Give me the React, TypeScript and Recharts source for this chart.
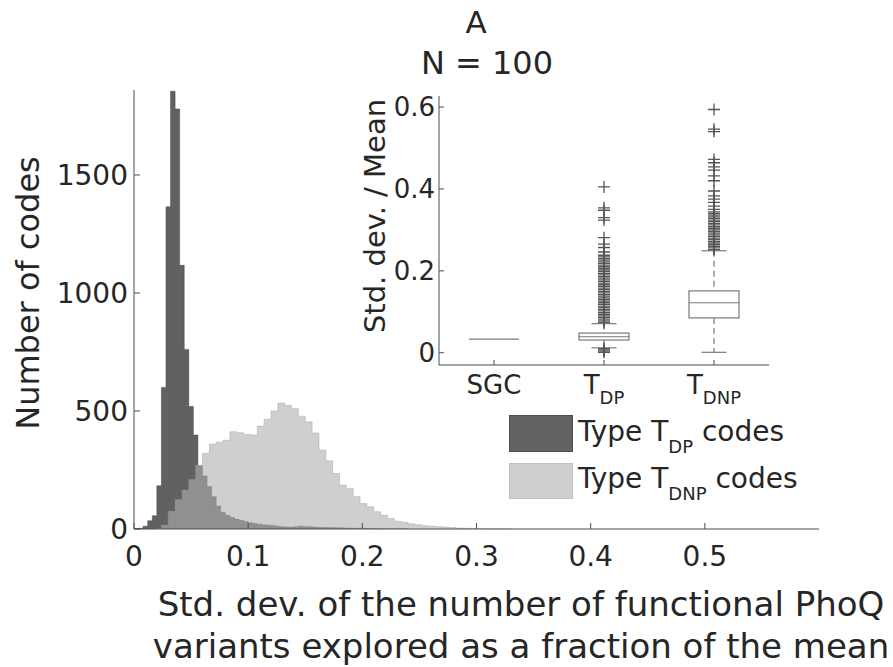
import React from "react";
import { ComposedChart, Area, Bar, Scatter, XAxis, YAxis } from "recharts";

const FONT = "DejaVu Sans";
const TEXT = "#262626";
const AXIS = "#4d4d4d";

// histogram of type T_DP codes (bins of 0.004 starting at 0)
const darkBinStart = 0;
const darkBinWidth = 0.004;
const darkCounts = [
  2, 3, 12, 35, 56, 183, 600, 1365, 1855, 1780, 1117, 761, 519, 398, 268, 225,
  180, 137, 97, 70, 58, 49, 42, 37, 32, 27, 23, 20, 18, 17, 15, 12, 10, 9, 8,
  10, 12, 11, 10, 8, 7, 7, 6, 6, 5, 5, 4, 4, 3, 3, 3, 2, 2, 2, 1, 1, 1, 1, 1, 1,
];

// histogram of type T_DNP codes (bins of 0.006 starting at 0.018)
const lightBinStart = 0.018;
const lightBinWidth = 0.006;
const lightCounts = [
  2, 17, 75, 125, 165, 210, 270, 320, 360, 368, 376, 412, 408, 400, 398, 436,
  465, 500, 534, 524, 510, 478, 454, 407, 334, 289, 235, 186, 172, 137, 108, 94,
  73, 58, 45, 33, 28, 22, 18, 14, 12, 10, 8, 6, 4, 3, 2, 2, 1, 1, 1, 1,
];

const xTicks = [0, 0.1, 0.2, 0.3, 0.4, 0.5];
const yTicks = [0, 500, 1000, 1500];

// inset box plot
const boxPos = [1, 2, 3];
const boxLabels = [
  { main: "SGC", sub: "" },
  { main: "T", sub: "DP" },
  { main: "T", sub: "DNP" },
];
const q1 = [0.033, 0.031, 0.085];
const medians = [0.033, 0.039, 0.122];
const q3 = [0.033, 0.048, 0.151];
const whiskLo = [0.033, 0.012, 0.001];
const whiskHi = [0.033, 0.071, 0.249];
const outliersTDP = [
  0.001, 0.004, 0.007, 0.01,
  0.074, 0.078, 0.082, 0.086, 0.09, 0.094, 0.098, 0.102, 0.106, 0.11, 0.114,
  0.118, 0.122, 0.126, 0.13, 0.134, 0.138, 0.142, 0.146, 0.15, 0.154, 0.158,
  0.162, 0.166, 0.17, 0.174, 0.178, 0.182, 0.186, 0.19, 0.194, 0.198, 0.202,
  0.206, 0.21, 0.214, 0.218, 0.222, 0.226, 0.23, 0.234, 0.238,
  0.246, 0.257, 0.265, 0.281, 0.324, 0.33, 0.348, 0.354, 0.405,
];
const outliersTDNP = [
  0.252, 0.256, 0.26, 0.264, 0.268, 0.272, 0.276, 0.28, 0.284, 0.288, 0.292,
  0.296, 0.3, 0.304, 0.308, 0.312, 0.316, 0.32, 0.324, 0.328, 0.332, 0.336,
  0.34, 0.344, 0.35, 0.358, 0.367, 0.375, 0.383, 0.395, 0.42, 0.432, 0.446,
  0.454, 0.464, 0.472, 0.54, 0.546, 0.594,
];
const insetTicks = [0, 0.2, 0.4, 0.6];

function toSteps(start: number, width: number, counts: number[]) {
  const pts = counts.map((c, i) => ({ x: +(start + i * width).toFixed(4), count: c }));
  pts.push({ x: +(start + counts.length * width).toFixed(4), count: 0 });
  return pts;
}

const darkSteps = toSteps(darkBinStart, darkBinWidth, darkCounts);
const lightSteps = toSteps(lightBinStart, lightBinWidth, lightCounts);

const boxData = boxPos.map((p, i) => ({
  pos: p,
  range: [whiskLo[i], whiskHi[i]],
  lo: whiskLo[i],
  hi: whiskHi[i],
  q1: q1[i],
  med: medians[i],
  q3: q3[i],
}));

const outlierData = [
  ...outliersTDP.map((v) => ({ pos: 2, v })),
  ...outliersTDNP.map((v) => ({ pos: 3, v })),
];

const BoxShape = (props: any) => {
  const { x, y, width, height, payload } = props;
  const { lo, hi } = payload;
  const span = hi - lo;
  const py = (v: number) => (span === 0 ? y : y + (height * (hi - v)) / span);
  const cx = x + width / 2;
  const cap = width / 4;
  const col = "#7a7a7a";
  if (span === 0) {
    return <line x1={x} x2={x + width} y1={y} y2={y} stroke={col} strokeWidth={1.2} />;
  }
  const yq1 = py(payload.q1);
  const yq3 = py(payload.q3);
  const ym = py(payload.med);
  return (
    <g fill="none" stroke={col} strokeWidth={1.2}>
      <line x1={cx} x2={cx} y1={py(hi)} y2={yq3} strokeDasharray="6 4" />
      <line x1={cx} x2={cx} y1={yq1} y2={py(lo)} strokeDasharray="6 4" />
      <line x1={cx - cap} x2={cx + cap} y1={py(hi)} y2={py(hi)} />
      <line x1={cx - cap} x2={cx + cap} y1={py(lo)} y2={py(lo)} />
      <rect x={x} y={yq3} width={width} height={Math.max(yq1 - yq3, 0.5)} />
      <line x1={x} x2={x + width} y1={ym} y2={ym} />
    </g>
  );
};

const Plus = (props: any) => {
  const { cx, cy } = props;
  return (
    <path
      d={`M${cx - 6},${cy}H${cx + 6}M${cx},${cy - 6}V${cy + 6}`}
      stroke="#555"
      strokeWidth={1.3}
      fill="none"
    />
  );
};

const InsetTick = (props: any) => {
  const { x, y, payload } = props;
  const lab = boxLabels[payload.value - 1];
  if (!lab) return null;
  return (
    <text x={x} y={y} textAnchor="middle" dy="0.71em" fontSize={26} fontFamily={FONT} fill={TEXT}>
      <tspan>{lab.main}</tspan>
      {lab.sub ? (
        <tspan dy={10} fontSize={18}>
          {lab.sub}
        </tspan>
      ) : null}
    </text>
  );
};

const Sub = ({ children }: { children: React.ReactNode }) => (
  <span style={{ fontSize: 18, position: "relative", top: 12 }}>{children}</span>
);

export default function App() {
  const tickStyle = { fill: TEXT, fontSize: 28, fontFamily: FONT };
  return (
    <div
      style={{
        position: "absolute",
        left: 0,
        top: 0,
        width: 893,
        height: 667,
        background: "#fff",
        fontFamily: FONT,
        color: TEXT,
        overflow: "hidden",
      }}
    >
      <div style={{ position: "absolute", left: 0, top: 0 }}>
        <ComposedChart width={893} height={667} margin={{ top: 90, right: 74, bottom: 108, left: 74 }}>
          <XAxis
            type="number"
            dataKey="x"
            domain={[0, 0.6]}
            ticks={xTicks}
            interval={0}
            allowDataOverflow
            height={30}
            tickSize={-6}
            tickMargin={23}
            stroke={AXIS}
            tick={tickStyle}
            tickFormatter={(v: number) => String(v)}
          />
          <YAxis
            type="number"
            domain={[0, 1860]}
            ticks={yTicks}
            interval={0}
            allowDataOverflow
            width={60}
            tickSize={-6}
            tickMargin={12}
            stroke={AXIS}
            tick={tickStyle}
          />
          <Area
            data={darkSteps}
            dataKey="count"
            type="stepAfter"
            fill="#000"
            fillOpacity={0.62}
            stroke="#333"
            strokeOpacity={0.5}
            strokeWidth={0.8}
            isAnimationActive={false}
          />
          <Area
            data={lightSteps}
            dataKey="count"
            type="stepAfter"
            fill="#afafaf"
            fillOpacity={0.6}
            stroke="#999"
            strokeOpacity={0.5}
            strokeWidth={0.8}
            isAnimationActive={false}
          />
        </ComposedChart>
      </div>

      <div style={{ position: "absolute", left: 0, top: 0 }}>
        <ComposedChart
          width={893}
          height={667}
          data={boxData}
          margin={{ top: 96, right: 124, bottom: 252, left: 379 }}
        >
          <XAxis
            xAxisId="b"
            type="number"
            dataKey="pos"
            domain={[0.5, 3.5]}
            ticks={boxPos}
            interval={0}
            allowDataOverflow
            height={50}
            tickSize={-5}
            tickMargin={16}
            stroke={AXIS}
            tick={<InsetTick />}
          />
          <XAxis
            xAxisId="t"
            orientation="top"
            type="number"
            domain={[0.5, 3.5]}
            ticks={boxPos}
            interval={0}
            allowDataOverflow
            height={0}
            tickSize={-5}
            stroke={AXIS}
            tickFormatter={() => ""}
          />
          <YAxis
            yAxisId="l"
            type="number"
            dataKey="v"
            domain={[-0.03, 0.627]}
            ticks={insetTicks}
            interval={0}
            allowDataOverflow
            width={60}
            tickSize={-5}
            tickMargin={9}
            stroke={AXIS}
            tick={{ fill: TEXT, fontSize: 26, fontFamily: FONT }}
            tickFormatter={(v: number) => (v === 0 ? "0" : v.toFixed(1))}
          />
          <YAxis
            yAxisId="r"
            orientation="right"
            type="number"
            domain={[-0.03, 0.627]}
            ticks={insetTicks}
            interval={0}
            allowDataOverflow
            width={0}
            tickSize={-5}
            stroke={AXIS}
            tickFormatter={() => ""}
          />
          <Bar
            xAxisId="b"
            yAxisId="l"
            dataKey="range"
            barSize={50}
            shape={<BoxShape />}
            isAnimationActive={false}
          />
          <Scatter
            xAxisId="b"
            yAxisId="l"
            data={outlierData}
            dataKey="v"
            shape={<Plus />}
            isAnimationActive={false}
          />
        </ComposedChart>
      </div>

      {/* titles */}
      <div style={{ position: "absolute", left: 476, top: 22 - 15, transform: "translateX(-50%)", fontSize: 31, lineHeight: 1 }}>
        A
      </div>
      <div style={{ position: "absolute", left: 487, top: 62 - 15, transform: "translateX(-50%)", fontSize: 32, lineHeight: 1, whiteSpace: "nowrap" }}>
        N = 100
      </div>

      {/* axis labels */}
      <div
        style={{
          position: "absolute",
          left: 28,
          top: 293,
          transform: "translate(-50%, -50%) rotate(-90deg)",
          fontSize: 32,
          lineHeight: 1,
          whiteSpace: "nowrap",
        }}
      >
        Number of codes
      </div>
      <div
        style={{
          position: "absolute",
          left: 375,
          top: 216,
          transform: "translate(-50%, -50%) rotate(-90deg)",
          fontSize: 29,
          lineHeight: 1,
          whiteSpace: "nowrap",
        }}
      >
        Std. dev. / Mean
      </div>
      <div style={{ position: "absolute", left: 521, top: 603 - 16, transform: "translateX(-50%)", fontSize: 34, lineHeight: 1, whiteSpace: "nowrap" }}>
        Std. dev. of the number of functional PhoQ
      </div>
      <div style={{ position: "absolute", left: 521, top: 645 - 16, transform: "translateX(-50%)", fontSize: 34, lineHeight: 1, whiteSpace: "nowrap" }}>
        variants explored as a fraction of the mean
      </div>

      {/* legend */}
      <div style={{ position: "absolute", left: 509, top: 415, width: 62, height: 35, background: "#626262", border: "1px solid #4f4f4f" }} />
      <div style={{ position: "absolute", left: 509, top: 463, width: 62, height: 34, background: "#cfcfcf", border: "1px solid #c0c0c0" }} />
      <div style={{ position: "absolute", left: 578, top: 431 - 13, fontSize: 28, lineHeight: 1, whiteSpace: "nowrap" }}>
        Type T<Sub>DP</Sub> codes
      </div>
      <div style={{ position: "absolute", left: 578, top: 478 - 13, fontSize: 28, lineHeight: 1, whiteSpace: "nowrap" }}>
        Type T<Sub>DNP</Sub> codes
      </div>
    </div>
  );
}
